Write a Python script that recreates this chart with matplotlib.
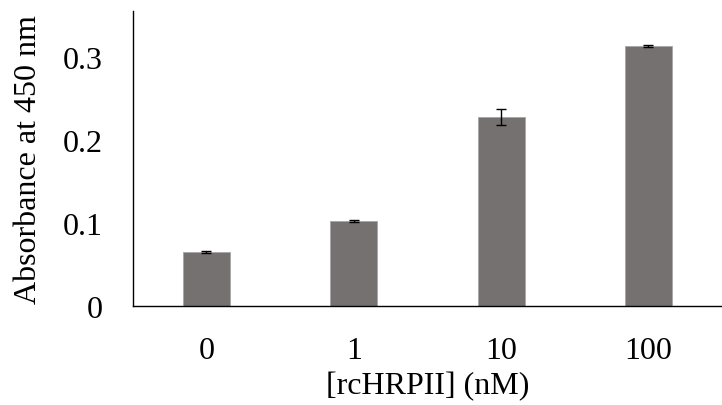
import matplotlib.pyplot as plt
import numpy as np

categories = ["0", "1", "10", "100"]
absorbance = [0.065, 0.102, 0.228, 0.313]
errors = [0.001, 0.001, 0.0095, 0.001]

plt.rcParams["font.family"] = ["Liberation Serif", "DejaVu Serif"]

fig = plt.figure(figsize=(7.22, 4.06), dpi=100)
ax = fig.add_axes([0.184, 0.244, 0.816, 0.726])

x = np.arange(len(categories))
ax.bar(x, absorbance, width=0.32, color="#767171", edgecolor="#a6a4a4", linewidth=0.6,
       yerr=errors, error_kw=dict(ecolor="black", elinewidth=1, capsize=3.3, capthick=1))

ax.set_xlim(-0.5, len(categories) - 0.5)
ax.set_ylim(0, 0.355)
ax.set_yticks([0, 0.1, 0.2, 0.3])
ax.set_yticklabels(["0", "0.1", "0.2", "0.3"])
ax.set_xticks(x)
ax.set_xticklabels(categories)
ax.tick_params(axis="both", length=0, labelsize=23)
ax.tick_params(axis="x", pad=22)
ax.tick_params(axis="y", pad=22)

for side in ["top", "right"]:
    ax.spines[side].set_visible(False)
for side in ["left", "bottom"]:
    ax.spines[side].set_linewidth(1)
    ax.spines[side].set_color("black")

ax.set_xlabel("[rcHRPII] (nM)", fontsize=23, labelpad=4)
ax.set_ylabel("Absorbance at 450 nm", fontsize=23, labelpad=14)

fig.savefig("out.png", dpi=100)
